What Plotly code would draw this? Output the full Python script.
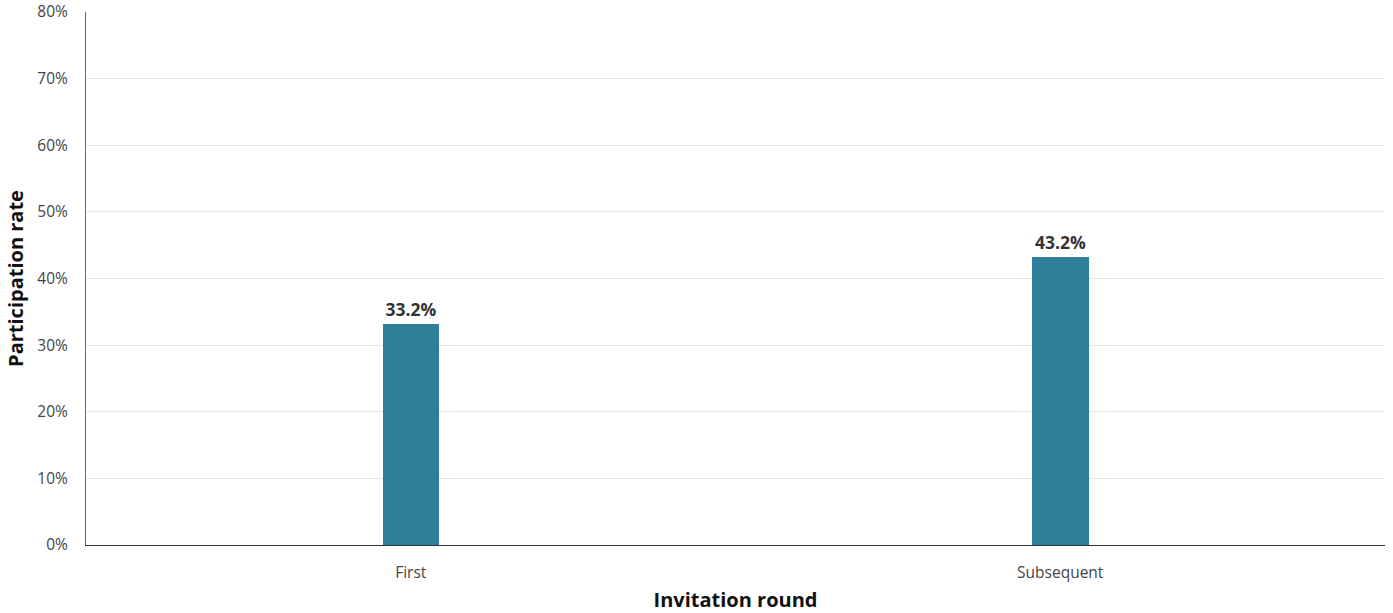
import plotly.graph_objects as go

rounds = ["First", "Subsequent"]
rates = [33.2, 43.2]
y_ticks = [0, 10, 20, 30, 40, 50, 60, 70, 80]
y_tick_text = [f"{v}%" for v in y_ticks]

fig = go.Figure(
    go.Bar(
        x=rounds,
        y=rates,
        width=0.087,
        marker=dict(color="#2E7F99", line=dict(width=0)),
        text=[f"{v:.1f}%" for v in rates],
        textposition="outside",
        cliponaxis=False,
        textfont=dict(family="Open Sans", size=17.5, color="#333333", weight="bold"),
    )
)

fig.update_layout(
    width=1393,
    height=613,
    margin=dict(l=86, r=8, t=12, b=68),
    plot_bgcolor="white",
    paper_bgcolor="white",
    font=dict(family="Open Sans", size=15.5, color="#444444"),
    showlegend=False,
    bargap=0,
)

fig.update_xaxes(
    automargin=False,
    showline=True,
    linecolor="#333333",
    linewidth=1,
    showgrid=False,
    ticks="outside",
    ticklen=13,
    tickcolor="rgba(0,0,0,0)",
    tickfont=dict(size=15.5, color="#444444"),
    title=dict(
        text="Invitation round",
        font=dict(size=20, color="#111111", weight="bold"),
        standoff=16,
    ),
)

fig.update_yaxes(
    automargin=False,
    range=[0, 80],
    tickvals=y_ticks,
    ticktext=y_tick_text,
    showline=True,
    linecolor="#666666",
    linewidth=1,
    showgrid=True,
    gridcolor="#e6e6e6",
    zeroline=False,
    ticks="outside",
    ticklen=14,
    tickcolor="rgba(0,0,0,0)",
    tickfont=dict(size=15.5, color="#444444"),
    title=dict(
        text="Participation rate",
        font=dict(size=20, color="#111111", weight="bold"),
        standoff=8,
    ),
)

fig.write_html("out.html")
